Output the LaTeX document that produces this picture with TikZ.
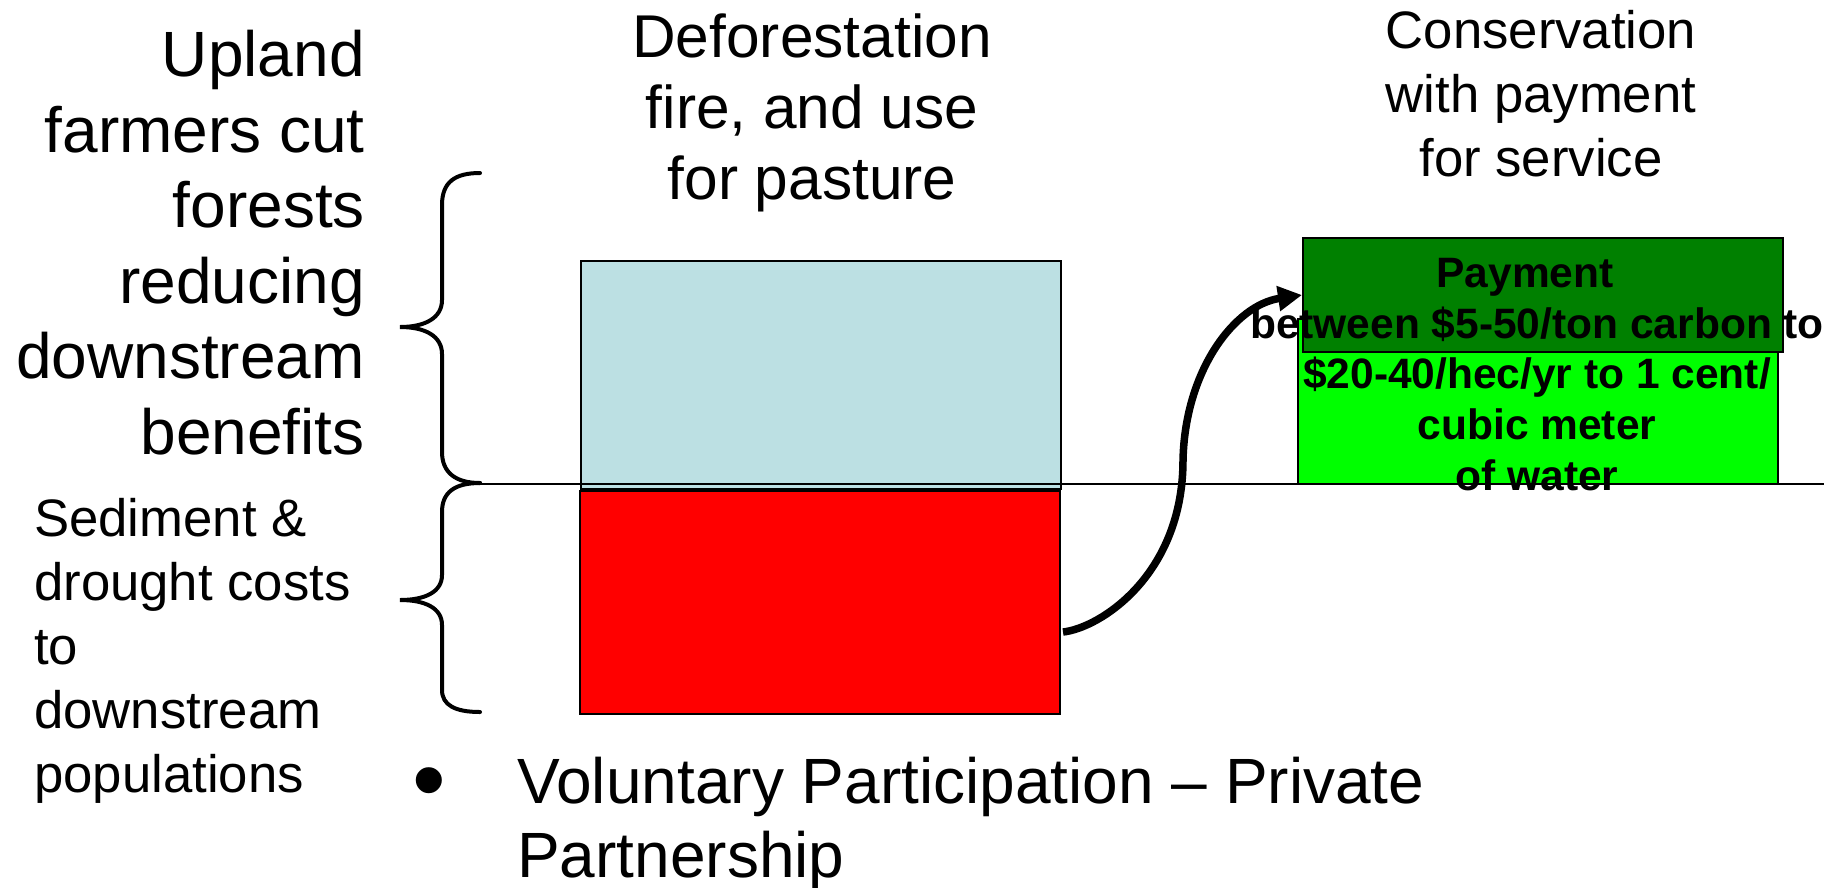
\documentclass[tikz,border=0pt]{standalone}
\usepackage{fontspec}
\setmainfont{Liberation Sans}
\usetikzlibrary{arrows.meta}
\definecolor{lblue}{RGB}{188,224,227}
\definecolor{dgreen}{RGB}{0,128,0}
\definecolor{lgreen}{RGB}{0,255,0}
\begin{document}
\begin{tikzpicture}[x=1pt,y=-1pt,
  boxstyle/.style={draw=black, line width=2pt, inner sep=0pt, anchor=north west},
  bigtext/.style={inner sep=0pt, font=\fontsize{64}{75.5}\selectfont},
  midtext/.style={inner sep=0pt, font=\fontsize{52.7}{64}\selectfont},
  greentext/.style={inner sep=0pt, align=center, font=\bfseries\fontsize{42.5}{50.7}\selectfont},
  bracestyle/.style={line width=4pt, line cap=round},
  arrowstyle/.style={line width=7.5pt, -{Triangle[length=24pt,width=24pt]}}]
\useasboundingbox (0,0) rectangle (1843,887);

% boxes
\node[boxstyle, fill=lblue, minimum width=480pt, minimum height=228pt] (forest) at (580,260) {};
\node[boxstyle, fill=red, minimum width=480pt, minimum height=223pt] (cost) at (579,490) {};
\node[boxstyle, fill=lgreen, minimum width=480pt, minimum height=165pt] (lg) at (1297,318) {};
\node[boxstyle, fill=dgreen, minimum width=480pt, minimum height=114pt] (dg) at (1302,237) {};

% axis line
\coordinate (axL) at (480,484);
\coordinate (axR) at (1824,484);
\draw[line width=1.6pt] (axL) -- (axR);

% braces
\draw[bracestyle] (480,173) .. controls (455,173) and (442,182) .. (442,205) -- (442,300)
  .. controls (442,318) and (425,327) .. (400,327)
  .. controls (425,327) and (442,336) .. (442,354) -- (442,452)
  .. controls (442,472) and (455,483) .. (480,483);
\draw[bracestyle] (480,483) .. controls (455,483) and (442,492) .. (442,512) -- (442,575)
  .. controls (442,592) and (425,600) .. (400,600)
  .. controls (425,600) and (442,608) .. (442,625) -- (442,690)
  .. controls (442,705) and (455,712) .. (480,712);

% texts
\node[bigtext, anchor=north east, align=right] (upland) at (365,30)
  {Upland\\farmers cut\\forests\\reducing\\downstream\\benefits};
\node[midtext, anchor=north west, align=left] (sediment) at (34,498)
  {Sediment \&\\drought costs\\to\\downstream\\populations};
\node[inner sep=0pt, font=\fontsize{60.4}{71}\selectfont, anchor=north, align=center] (defor) at (812,14)
  {Deforestation\\fire, and use\\for pasture};
\node[midtext, anchor=north, align=center] (conserv) at (1541,10)
  {Conservation\\with payment\\for service};
\node[inner sep=0pt, font=\fontsize{96}{96}\selectfont] (bullet) at (429,790) {•};
\node[inner sep=0pt, font=\fontsize{64}{74}\selectfont, anchor=north west, align=left] (volun) at (517,757)
  {Voluntary Participation – Private\\Partnership};
\node[greentext, anchor=north] (pay) at (1537,258)
  {Payment\hspace*{24pt}\\between \$5-50/ton carbon to\\\$20-40/hec/yr to 1 cent/\\cubic meter\\of water};

% arrow
\coordinate (astart) at (1063,632);
\draw[arrowstyle] (astart) .. controls (1100,628) and (1183,575) .. (1183,460)
  .. controls (1185,370) and (1235,305) .. (dg.west);
\end{tikzpicture}
\end{document}
